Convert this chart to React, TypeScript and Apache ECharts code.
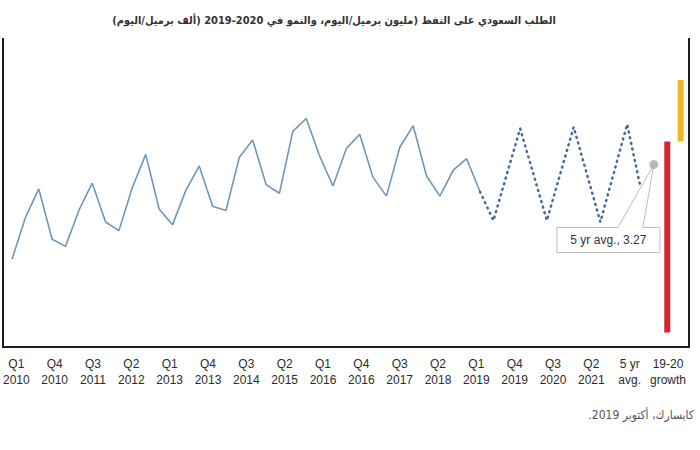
import React, { useEffect, useRef } from "react";
import * as echarts from "echarts";

// Quarterly slots on the data axis: Q1 2010 .. Q4 2021, then 5-yr avg and the two growth bars
const years: number[] = [2010, 2011, 2012, 2013, 2014, 2015, 2016, 2017, 2018, 2019, 2020, 2021];
const quarterNames: string[] = ["Q1", "Q2", "Q3", "Q4"];
const extraSlots: string[] = ["5 yr avg.", "2019 growth", "2020 growth", ""];

// Saudi oil demand, million b/d, Q1 2010 .. Q4 2018 (solid line)
const history: number[] = [
  2.61, 2.9, 3.1, 2.75,
  2.7, 2.95, 3.14, 2.87,
  2.81, 3.11, 3.34, 2.96,
  2.85, 3.09, 3.26, 2.98,
  2.95, 3.32, 3.44, 3.13,
  3.07, 3.5, 3.59, 3.33,
  3.12, 3.38, 3.48, 3.18,
  3.05, 3.39, 3.54, 3.19,
  3.05, 3.23, 3.31, 3.08,
];

// Projection, Q4 2018 .. Q4 2021 (dotted line; only the vertices are read)
const forecast: (number | null)[] = [3.08, 2.88, null, 3.52, null, 2.88, null, 3.53, null, 2.87, null, 3.55, 3.11];

const fiveYearAvg = 3.27;

// Growth 2019 and 2020, thousand b/d
const growthValues: number[] = [-155, 50];
const growthColors: string[] = ["#d8232d", "#f1b824"];

const tickLabels: string[] = [
  "Q1\n2010", "Q4\n2010", "Q3\n2011", "Q2\n2012", "Q1\n2013", "Q4\n2013",
  "Q3\n2014", "Q2\n2015", "Q1\n2016", "Q4\n2016", "Q3\n2017", "Q2\n2018",
  "Q1\n2019", "Q4\n2019", "Q3\n2020", "Q2\n2021", "5 yr\navg.", "19-20\ngrowth",
];

const titleText = "الطلب السعودي على النفط (مليون برميل/اليوم، والنمو في 2020-2019 (ألف برميل/اليوم)\u200F";
const sourceText = "كابسارك، أكتوبر 2019.\u200F";

export default function App() {
  const ref = useRef<HTMLDivElement>(null);

  useEffect(() => {
    if (!ref.current) return;
    const chart = echarts.init(ref.current, undefined, { renderer: "svg" });

    const slots: string[] = [];
    years.forEach((y) => quarterNames.forEach((q) => slots.push(q + " " + y)));
    const forecastStart = slots.indexOf("Q4 2018");
    extraSlots.forEach((s) => slots.push(s));
    const avgIdx = slots.indexOf("5 yr avg.");
    const g19 = slots.indexOf("2019 growth");
    const g20 = slots.indexOf("2020 growth");

    const forecastData: (number | null)[] = [];
    for (let i = 0; i < forecastStart; i++) forecastData.push(null);
    forecast.forEach((v) => forecastData.push(v));

    const labelFont = "'Liberation Sans', Arial, sans-serif";

    chart.setOption({
      animation: false,
      backgroundColor: "#ffffff",
      grid: [
        { left: 12, right: 6, top: 38, bottom: 103 },
        { left: 15, right: 32, top: 38, bottom: 103 },
      ],
      xAxis: [
        { type: "category", gridIndex: 0, data: slots, boundaryGap: false, show: false },
        {
          type: "category",
          gridIndex: 1,
          data: tickLabels,
          boundaryGap: false,
          axisLine: { show: false },
          axisTick: { show: false },
          splitLine: { show: false },
          axisLabel: {
            interval: 0,
            fontSize: 12,
            lineHeight: 16,
            color: "#2b2b2b",
            fontFamily: labelFont,
            margin: 9,
          },
        },
      ],
      yAxis: [
        { type: "value", gridIndex: 0, min: 2, max: 4.15, show: false, splitLine: { show: false } },
        { type: "value", gridIndex: 0, min: -166.8, max: 84, show: false, splitLine: { show: false } },
        { type: "value", gridIndex: 1, min: 0, max: 1, show: false, splitLine: { show: false } },
      ],
      series: [
        {
          type: "line",
          xAxisIndex: 0,
          yAxisIndex: 0,
          data: history,
          symbol: "none",
          lineStyle: { color: "#7096bd", width: 1.6 },
          z: 3,
        },
        {
          type: "line",
          xAxisIndex: 0,
          yAxisIndex: 0,
          data: forecastData,
          connectNulls: true,
          symbol: "none",
          lineStyle: { color: "#4a6a99", width: 2.5, type: [1, 4.8], cap: "round" },
          z: 3,
        },
        {
          type: "scatter",
          xAxisIndex: 0,
          yAxisIndex: 0,
          data: [[avgIdx, fiveYearAvg]],
          symbolSize: 9,
          itemStyle: { color: "#a8a8a8" },
          z: 4,
        },
        {
          type: "bar",
          xAxisIndex: 0,
          yAxisIndex: 1,
          barWidth: 6,
          data: [
            { value: [g19, growthValues[0]], itemStyle: { color: growthColors[0] } },
            { value: [g20, growthValues[1]], itemStyle: { color: growthColors[1] } },
          ],
          z: 3,
        },
      ],
    });

    const p = chart.convertToPixel({ xAxisIndex: 0, yAxisIndex: 0 }, [avgIdx, fiveYearAvg]) as number[];
    const px = p[0];
    const py = p[1];
    const top = py + 63;
    const bottom = py + 88;
    const left = px - 97;
    const right = px + 6;

    chart.setOption({
      graphic: [
        {
          type: "polyline",
          z: 1,
          shape: { points: [[3, 38], [3, 347], [689, 347], [689, 38]] },
          style: { stroke: "#1e1e1e", lineWidth: 2, fill: "none" },
        },
        {
          type: "text",
          x: 334,
          y: 20,
          style: {
            text: titleText,
            align: "center",
            verticalAlign: "middle",
            fontSize: 11,
            fontWeight: "bold",
            fontFamily: "'DejaVu Sans Condensed', 'DejaVu Sans', sans-serif",
            fill: "#333333",
          },
        },
        {
          type: "text",
          x: 694,
          y: 415,
          style: {
            text: sourceText,
            align: "right",
            verticalAlign: "middle",
            fontSize: 12,
            fontFamily: "'DejaVu Sans Condensed', 'DejaVu Sans', sans-serif",
            fill: "#555555",
          },
        },
        {
          type: "polygon",
          z: 1,
          shape: {
            points: [
              [left, top],
              [px - 36, top],
              [px, py],
              [px - 11, top],
              [right, top],
              [right, bottom],
              [left, bottom],
            ],
          },
          style: { fill: "#ffffff", stroke: "#bdbdbd", lineWidth: 1 },
        },
        {
          type: "text",
          z: 2,
          x: (left + right) / 2,
          y: (top + bottom) / 2,
          style: {
            text: "5 yr avg., 3.27",
            align: "center",
            verticalAlign: "middle",
            fontSize: 12,
            fontFamily: labelFont,
            fill: "#333333",
          },
        },
      ],
    });

    return () => chart.dispose();
  }, []);

  return (
    <div
      ref={ref}
      style={{ position: "fixed", left: 0, top: 0, width: 700, height: 450, background: "#fff" }}
    />
  );
}
